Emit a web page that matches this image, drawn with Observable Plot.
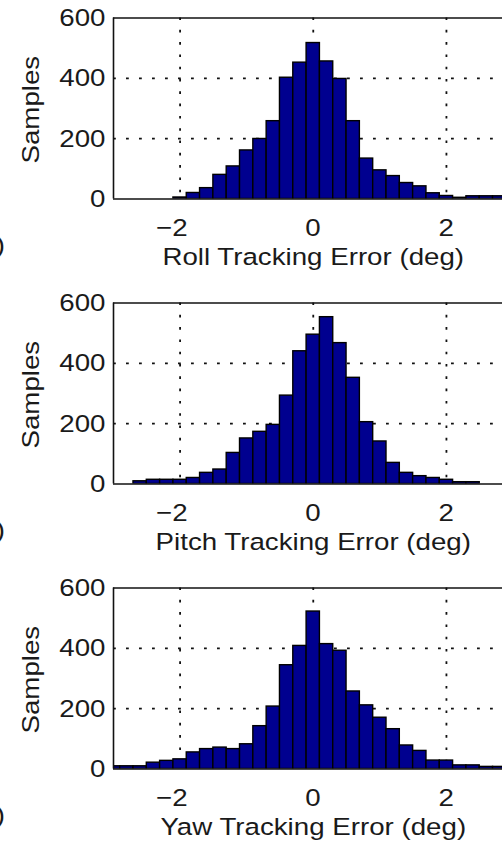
<!DOCTYPE html>
<html>
<head>
<meta charset="utf-8">
<script src="https://cdn.jsdelivr.net/npm/d3@7"></script>
<script src="https://cdn.jsdelivr.net/npm/@observablehq/plot@0.6"></script>
<style>
  html, body { margin: 0; padding: 0; background: #fff; overflow: hidden; }
  #charts { width: 502px; }
  #charts svg { display: block; }
</style>
</head>
<body>
<div id="charts"></div>
<script>
// Histogram bin centres (deg); each bin is 0.2 deg wide
const binCenters = [-3.0, -2.8, -2.6, -2.4, -2.2, -2.0, -1.8, -1.6, -1.4, -1.2,
                    -1.0, -0.8, -0.6, -0.4, -0.2, 0.0, 0.2, 0.4, 0.6, 0.8,
                    1.0, 1.2, 1.4, 1.6, 1.8, 2.0, 2.2, 2.4, 2.6, 2.8];
const binWidth = 0.2;

// Sample counts per bin
const rollSamples  = [0, 0, 0, 0, 0, 5, 20, 36, 80, 108,
                      161, 199, 258, 402, 452, 517, 456, 398, 258, 134,
                      95, 76, 53, 42, 19, 10, 4, 9, 9, 9];
const pitchSamples = [0, 0, 9, 14, 14, 14, 20, 37, 48, 103,
                      151, 173, 196, 293, 440, 495, 553, 467, 352, 205,
                      141, 70, 37, 26, 20, 14, 6, 6, 0, 0];
const yawSamples   = [9, 9, 9, 21, 27, 32, 55, 66, 71, 66,
                      82, 142, 207, 344, 408, 522, 414, 392, 257, 211,
                      170, 132, 78, 60, 28, 28, 12, 12, 7, 7];

const panelTags   = ["(a)", "(b)", "(c)"];
const panelLabels = ["Roll Tracking Error (deg)", "Pitch Tracking Error (deg)", "Yaw Tracking Error (deg)"];
const panelValues = [rollSamples, pitchSamples, yawSamples];

const yTicks = [0, 200, 400, 600];
const yGrid = [200, 400];
const xTicks = [-2, 0, 2];
const yLabel = "Samples";

const font = "'Liberation Sans', Arial, Helvetica, sans-serif";
const ink = "#1a1a1a";
const barFill = "#00008f";
const dotted = {stroke: "#111", strokeOpacity: 1, strokeWidth: 1.8};

const container = document.getElementById("charts");
const panelHeights = [285, 285, 272];
const plotHeight = 181;
const marginTop = 17.5;

panelValues.forEach((values, k) => {
  const bins = binCenters
    .map((c, i) => ({x1: c - binWidth / 2, x2: c + binWidth / 2, count: values[i]}))
    .filter(d => d.count > 0);
  const h = panelHeights[k];
  const chart = Plot.plot({
    width: 502,
    height: h,
    marginLeft: 113,
    marginRight: 0,
    marginTop,
    marginBottom: h - marginTop - plotHeight,
    style: {fontFamily: font, fontSize: "24.5px", color: ink, background: "#fff"},
    x: {domain: [-3, 2.842], axis: null},
    y: {domain: [0, 600]},
    marks: [
      Plot.gridY(yGrid, {...dotted, strokeDasharray: "2.8,10.2"}),
      Plot.gridX(xTicks, {...dotted, strokeDasharray: "2.6,9.7"}),
      Plot.rectY(bins, {x1: "x1", x2: "x2", y: "count", fill: barFill, stroke: "#000", strokeWidth: 1.4, clip: true}),
      Plot.ruleY([0, 600], {stroke: "#111", strokeWidth: 1.6}),
      Plot.ruleX([-3], {stroke: "#111", strokeWidth: 1.6}),
      Plot.axisY(yTicks, {tickSize: 0, tickPadding: 8, label: null, fill: ink}),
      Plot.text(xTicks, {
        x: d => d, text: d => d < 0 ? "\u2212" + (-d) : String(d),
        frameAnchor: "bottom", textAnchor: "end", lineAnchor: "middle", dx: 7.5, dy: 29, fill: ink
      }),
      Plot.text([panelLabels[k]], {x: () => 0, frameAnchor: "bottom", lineAnchor: "middle", dy: 58.5, fill: ink}),
      Plot.text([yLabel], {frameAnchor: "left", rotate: -90, textAnchor: "start", lineAnchor: "middle", dx: -82, dy: 55, fill: ink}),
      Plot.text([panelTags[k]], {frameAnchor: "bottom-left", textAnchor: "end", lineAnchor: "middle", dx: -108.5, dy: 46.5, fill: ink})
    ]
  });
  container.appendChild(chart);
});

// The labels use a wide Helvetica-like face: widen each label along its own direction
container.querySelectorAll("text").forEach(t => {
  const len = t.getComputedTextLength();
  if (len > 0) {
    t.setAttribute("textLength", (len * 1.13).toFixed(1));
    t.setAttribute("lengthAdjust", "spacingAndGlyphs");
  }
});
</script>
</body>
</html>
